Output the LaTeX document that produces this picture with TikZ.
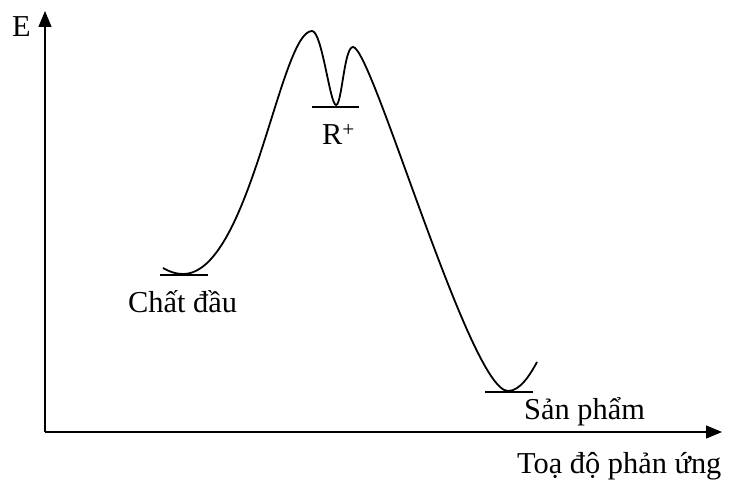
\documentclass[tikz,border=0pt]{standalone}
\usepackage{fontspec}
\setmainfont{Liberation Serif}
\usetikzlibrary{arrows.meta}
\begin{document}
\begin{tikzpicture}[x=1bp,y=-1bp,
  axis/.style={line width=1.4bp,-{Triangle[length=16bp,width=13bp]}},
  curve/.style={line width=1.8bp},
  level/.style={line width=1.4bp},
  lbl/.style={inner sep=0pt,anchor=base west,font=\fontsize{30.5}{34}\selectfont}]
\useasboundingbox (0,0) rectangle (731,480);
\coordinate (O) at (45,432);
\coordinate (ytip) at (45,11);
\coordinate (xtip) at (722,432);
\draw[axis] (O) -- (ytip);
\draw[axis] (O) -- (xtip);
\node[lbl] (E) at (12,37) {E};
\node[lbl] (xl) at (517,473) {Toạ độ phản ứng};
% energy curve
\coordinate (s) at (163,268);
\coordinate (m1) at (183,274);
\coordinate (p1) at (312,31);
\coordinate (d) at (336,105);
\coordinate (p2) at (353,47);
\coordinate (m2) at (508,391);
\coordinate (e) at (537,362);
\draw[curve] (s) .. controls (170,272) and (176,274) .. (m1)
  .. controls (250,274) and (280,31) .. (p1)
  .. controls (322,31) and (330,105) .. (d)
  .. controls (342,105) and (344,47) .. (p2)
  .. controls (372,47) and (470,391) .. (m2)
  .. controls (520,391) and (530,375) .. (e);
% levels
\coordinate (a1) at (160,275); \coordinate (a2) at (208,275);
\coordinate (b1) at (312,107); \coordinate (b2) at (359,107);
\coordinate (c1) at (485,392); \coordinate (c2) at (533,392);
\draw[level] (a1) -- (a2);
\draw[level] (b1) -- (b2);
\draw[level] (c1) -- (c2);
\node[lbl] (r) at (322,145) {R\textsuperscript{+}};
\node[lbl] (cd) at (128,312) {Chất đầu};
\node[lbl] (sp) at (524,419) {Sản phẩm};
\end{tikzpicture}
\end{document}
